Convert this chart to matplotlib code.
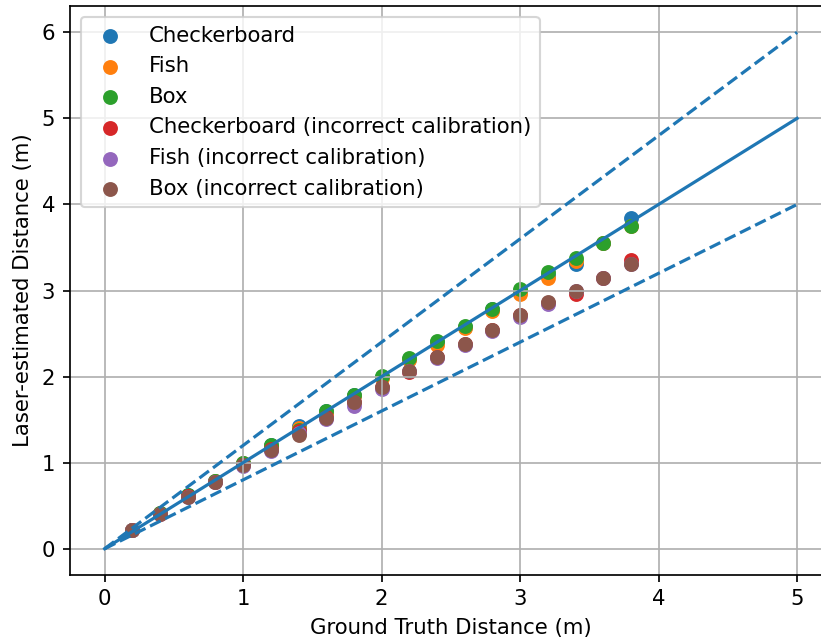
import numpy as np
import matplotlib
matplotlib.use('Agg')
import matplotlib.pyplot as plt

x = [0.2, 0.4, 0.6, 0.8, 1.0, 1.2, 1.4, 1.6, 1.8, 2.0,
     2.2, 2.4, 2.6, 2.8, 3.0, 3.2, 3.4, 3.6, 3.8]

checkerboard = [0.22, 0.41, 0.62, 0.79, 1.00, 1.20, 1.42, 1.60, 1.79, 2.00,
                2.20, 2.40, 2.58, 2.78, 3.00, 3.18, 3.31, 3.55, 3.84]
fish = [0.22, 0.41, 0.61, 0.79, 1.00, 1.19, 1.40, 1.58, 1.77, 1.98,
        2.19, 2.37, 2.56, 2.76, 2.96, 3.15, 3.34, 3.55, 3.75]
box = [0.22, 0.41, 0.62, 0.79, 1.00, 1.21, 1.38, 1.60, 1.79, 2.01,
       2.21, 2.41, 2.59, 2.78, 3.02, 3.21, 3.38, 3.55, 3.75]
checkerboard_bad = [0.22, 0.40, 0.61, 0.78, 0.97, 1.16, 1.37, 1.53, 1.70, 1.88,
                    2.05, 2.23, 2.38, 2.54, 2.72, 2.86, 2.96, 3.15, 3.36]
fish_bad = [0.22, 0.40, 0.60, 0.77, 0.96, 1.14, 1.34, 1.51, 1.66, 1.86,
            2.06, 2.21, 2.37, 2.53, 2.69, 2.84, 2.99, 3.15, 3.31]
box_bad = [0.22, 0.40, 0.60, 0.78, 0.97, 1.15, 1.32, 1.52, 1.70, 1.88,
           2.07, 2.23, 2.38, 2.54, 2.72, 2.87, 3.00, 3.15, 3.31]

series = [
    ('Checkerboard', checkerboard),
    ('Fish', fish),
    ('Box', box),
    ('Checkerboard (incorrect calibration)', checkerboard_bad),
    ('Fish (incorrect calibration)', fish_bad),
    ('Box (incorrect calibration)', box_bad),
]

dpi = 153
fig = plt.figure(figsize=(822 / dpi, 642 / dpi), dpi=dpi)
ax = fig.add_axes([0.0852, 0.1051, 0.9266, 0.8848])

for label, y in series:
    ax.scatter(x, y, label=label)

ref = np.array([0, 5])
ax.plot(ref, ref, color='tab:blue')
ax.plot(ref, 1.2 * ref, color='tab:blue', ls='--')
ax.plot(ref, 0.8 * ref, color='tab:blue', ls='--')

ax.set_xlabel('Ground Truth Distance (m)')
ax.set_ylabel('Laser-estimated Distance (m)')
ax.grid(True)
ax.legend(loc='upper left')

fig.savefig('out.png', dpi=dpi)
